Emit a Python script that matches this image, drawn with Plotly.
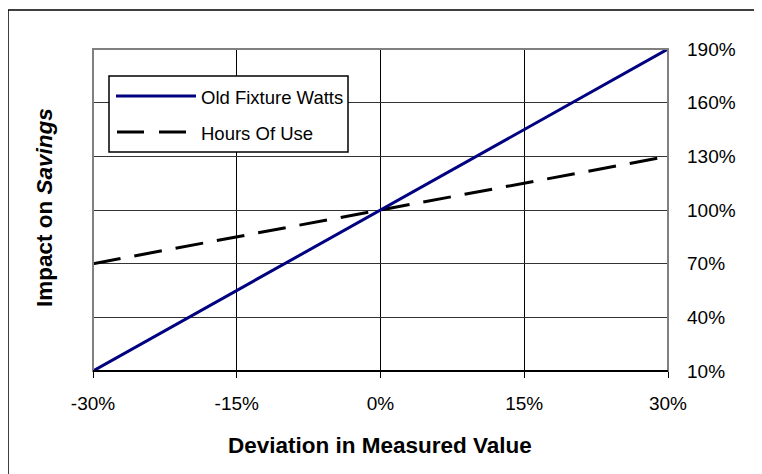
import plotly.graph_objects as go

deviation = [-30, -20, -10, 0, 10, 20, 30]
old_fixture_watts = [10, 40, 70, 100, 130, 160, 190]
hours_of_use = [70, 80, 90, 100, 110, 120, 130]
x_ticks = [-30, -15, 0, 15, 30]
x_tick_labels = ["-30%", "-15%", "0%", "15%", "30%"]
y_ticks = [10, 40, 70, 100, 130, 160, 190]
y_tick_labels = ["10%", "40%", "70%", "100%", "130%", "160%", "190%"]

FONT = "Liberation Sans, Arial, sans-serif"
NAVY = "#000080"

fig = go.Figure()
fig.add_trace(go.Scatter(x=deviation, y=hours_of_use, mode="lines",
                         line=dict(color="black", width=3, dash="28px,14px"),
                         name="Hours Of Use", showlegend=False))
fig.add_trace(go.Scatter(x=deviation, y=old_fixture_watts, mode="lines",
                         line=dict(color=NAVY, width=3),
                         name="Old Fixture Watts", showlegend=False))

# page body adds an 8px offset; figure is sized to fill the rest of the window
OFF = 8
W, H = 762 - OFF, 474 - OFF
L, T = 93 - OFF, 49 - OFF
R = W - (668 - OFF)
B = H - (371 - OFF)
pw, ph = W - L - R, H - T - B

def px(x):
    return (x - OFF - L) / pw

def py(y):
    return 1 - (y - OFF - T) / ph

shapes = [
    # outer chart border
    dict(type="rect", xref="paper", yref="paper", x0=px(8), x1=px(800), y0=py(10), y1=py(520),
         line=dict(color="black", width=1.5), layer="below"),
    # plot frame
    dict(type="rect", xref="paper", yref="paper", x0=0, x1=1, y0=0, y1=1,
         line=dict(color="#808080", width=2), layer="above"),
    dict(type="line", xref="paper", yref="paper", x0=0, x1=1, y0=0, y1=0,
         line=dict(color="black", width=2), layer="above"),
    # legend box
    dict(type="rect", xref="paper", yref="paper", x0=px(109), x1=px(348), y0=py(152), y1=py(76),
         line=dict(color="black", width=1.5), fillcolor="white", layer="above"),
    dict(type="line", xref="paper", yref="paper", x0=px(116), x1=px(196), y0=py(96), y1=py(96),
         line=dict(color=NAVY, width=3), layer="above"),
    dict(type="line", xref="paper", yref="paper", x0=px(117), x1=px(196), y0=py(132), y1=py(132),
         line=dict(color="black", width=3, dash="27px,15px"), layer="above"),
]

annotations = [
    dict(text="Old Fixture Watts", xref="paper", yref="paper", x=px(199), y=py(97),
         xanchor="left", yanchor="middle", showarrow=False, font=dict(family=FONT, size=18.5, color="black")),
    dict(text="Hours Of Use", xref="paper", yref="paper", x=px(199), y=py(133),
         xanchor="left", yanchor="middle", showarrow=False, font=dict(family=FONT, size=18.5, color="black")),
    dict(text="<b>Impact on <i>Savings</i></b>", xref="paper", yref="paper", x=px(44), y=py(208),
         xanchor="center", yanchor="middle", textangle=-90, showarrow=False,
         font=dict(family=FONT, size=22.5, color="black")),
    dict(text="<b>Deviation in Measured Value</b>", xref="paper", yref="paper", x=px(380), y=py(445),
         xanchor="center", yanchor="middle", showarrow=False,
         font=dict(family=FONT, size=22.5, color="black")),
]

fig.update_layout(
    width=W, height=H,
    margin=dict(l=L, r=R, t=T, b=B),
    paper_bgcolor="white", plot_bgcolor="white",
    font=dict(family=FONT, size=19, color="black"),
    shapes=shapes, annotations=annotations,
    showlegend=False,
    xaxis=dict(range=[-30, 30], tickvals=x_ticks, ticktext=x_tick_labels,
               showgrid=True, gridcolor="black", gridwidth=1, zeroline=False,
               ticks="outside", ticklen=6, tickcolor="black", tickwidth=1,
               ticklabelstandoff=9, showline=False,
               tickfont=dict(family=FONT, size=19, color="black")),
    yaxis=dict(range=[10, 190], tickvals=y_ticks, ticktext=y_tick_labels, side="right",
               showgrid=True, gridcolor="#333333", gridwidth=1, zeroline=False,
               ticks="", ticklabelstandoff=18, showline=False,
               tickfont=dict(family=FONT, size=19, color="black")),
)

fig.write_html("out.html")
